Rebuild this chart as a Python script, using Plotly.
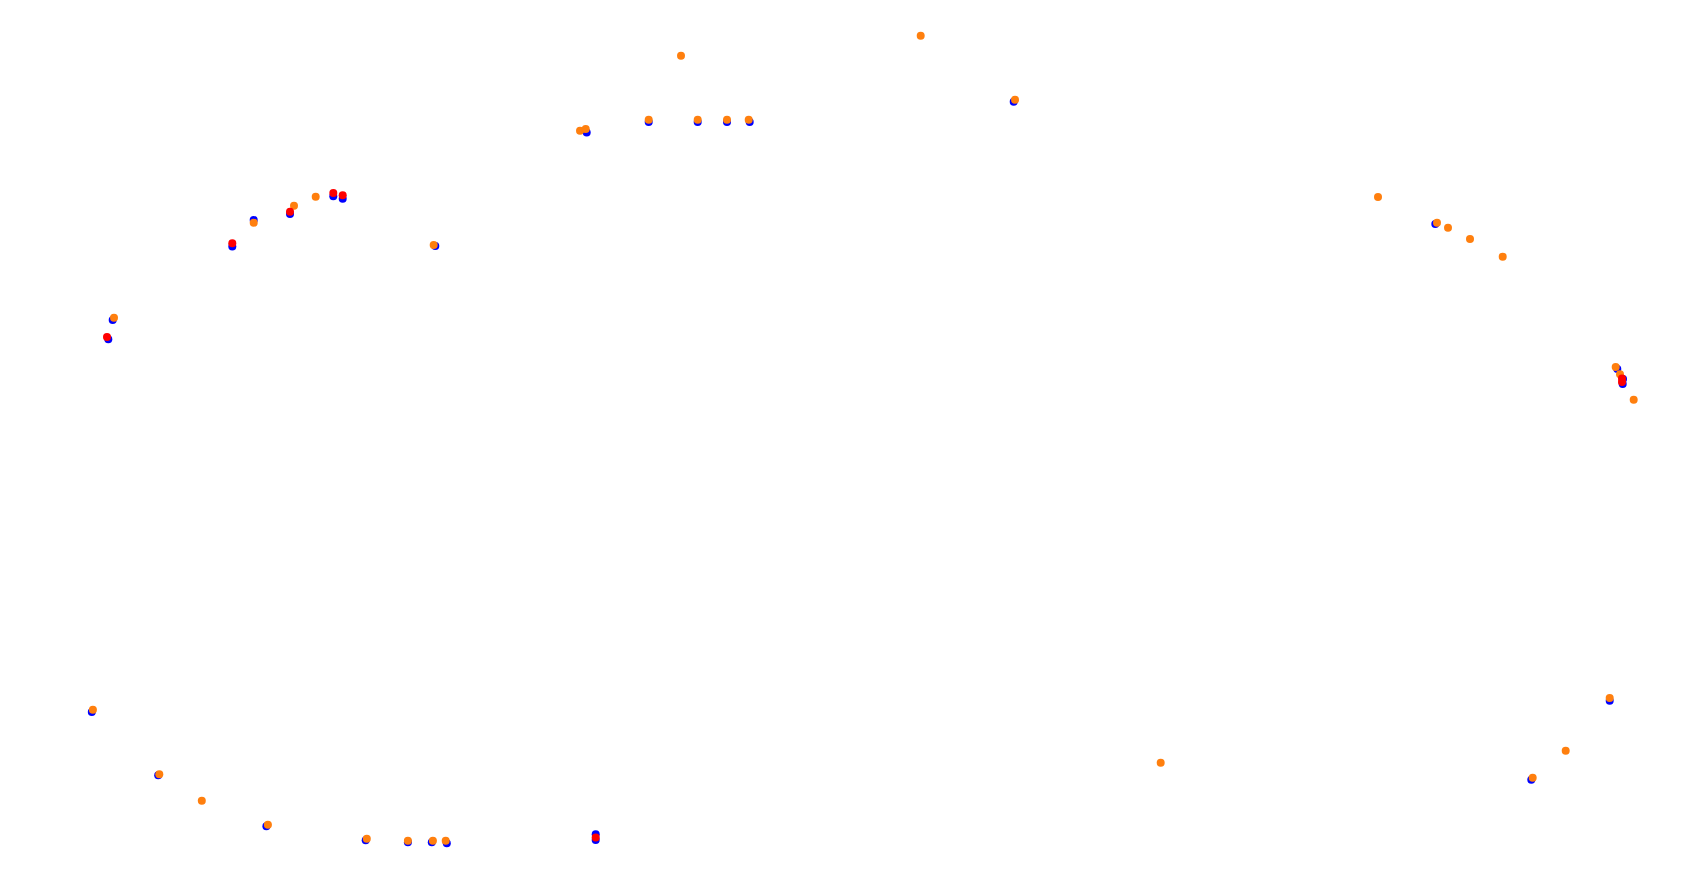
import plotly.graph_objects as go

# Series values (x, y in chart units; y grows downward)
blue_x = [232.3, 253.7, 290.0, 333.3, 342.7, 435.3, 112.7, 108.3, 586.7, 648.7,
          697.7, 727.0, 749.7, 1013.7, 1435.3, 1617.3, 1623.0, 1622.7, 1609.7, 1531.3,
          91.8, 158.2, 266.4, 365.7, 407.9, 431.8, 446.8, 595.7, 595.7]
blue_y = [246.5, 220.0, 214.0, 196.3, 198.7, 246.0, 320.0, 339.3, 132.5, 122.0,
          122.0, 122.0, 122.0, 101.7, 224.0, 369.0, 379.0, 384.0, 700.7, 779.7,
          712.0, 775.3, 826.3, 840.3, 842.3, 842.3, 843.3, 834.3, 840.0]

red_x = [232.3, 290.0, 333.3, 342.7, 107.0, 1622.0, 1622.0, 595.7]
red_y = [243.3, 211.7, 193.0, 195.3, 337.0, 378.5, 382.0, 837.5]

orange_x = [253.7, 294.0, 315.7, 433.7, 114.0, 580.0, 585.7, 648.7, 697.7, 727.0,
            748.7, 681.0, 920.7, 1015.0, 1378.0, 1437.0, 1448.0, 1470.0, 1502.7, 1615.7,
            1620.0, 1633.7, 1160.7, 1609.7, 1565.7, 1532.7, 92.9, 159.3, 201.8, 267.9,
            366.8, 407.9, 432.9, 445.7]
orange_y = [222.7, 205.7, 196.7, 245.0, 317.7, 130.7, 129.0, 119.7, 119.7, 119.7,
            119.7, 55.7, 35.7, 99.7, 197.0, 222.7, 227.7, 239.0, 256.7, 367.0,
            374.3, 399.7, 762.7, 698.0, 750.7, 777.7, 709.7, 774.3, 800.7, 824.7,
            838.7, 840.7, 840.7, 840.7]

fig = go.Figure()
fig.add_trace(go.Scatter(x=blue_x, y=blue_y, mode="markers",
                         marker=dict(color="#0000ff", size=8), showlegend=False))
fig.add_trace(go.Scatter(x=orange_x, y=orange_y, mode="markers",
                         marker=dict(color="#ff7f0e", size=8), showlegend=False))
fig.add_trace(go.Scatter(x=red_x, y=red_y, mode="markers",
                         marker=dict(color="#ff0000", size=8), showlegend=False))

# the page body adds an 8px offset, so the axes start 8 units in
fig.update_layout(
    width=1695, height=880,
    margin=dict(l=0, r=0, t=0, b=0),
    paper_bgcolor="white", plot_bgcolor="white",
    xaxis=dict(range=[8, 1703], visible=False, fixedrange=True),
    yaxis=dict(range=[888, 8], visible=False, fixedrange=True),
)
fig.write_html("out.html")
